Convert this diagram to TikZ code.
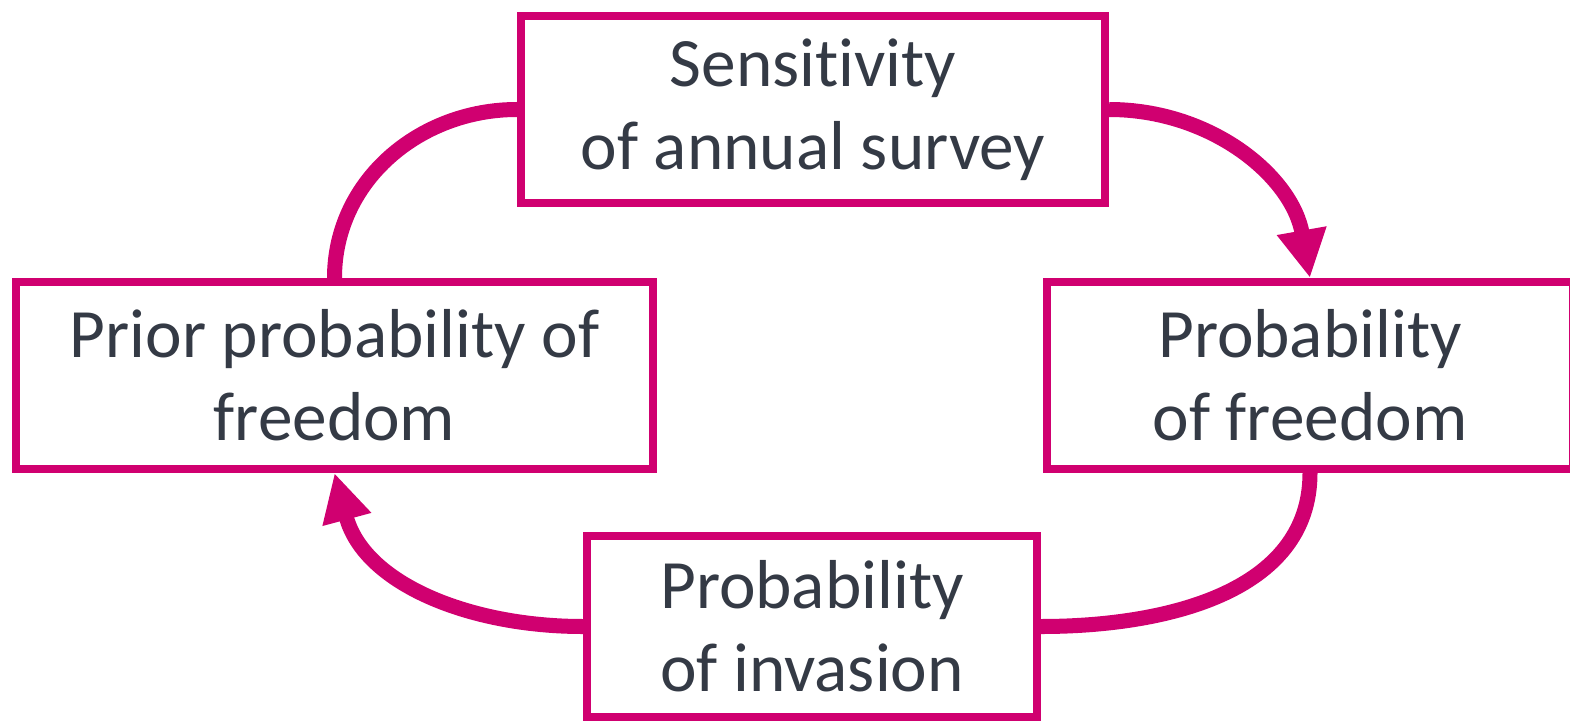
\documentclass[tikz,border=0pt]{standalone}
\usepackage{fontspec}
\setmainfont[Ligatures=NoCommon]{Carlito}
\usetikzlibrary{arrows.meta}
\definecolor{boxpink}{RGB}{208,0,112}
\definecolor{textgrey}{RGB}{52,58,69}
\tikzset{
	factor/.style={draw=boxpink, line width=0.08cm, inner sep=0pt, align=center, text=textgrey, font=\fontsize{19.7}{23.6}\selectfont},
	link/.style={draw=boxpink, line width=0.15cm},
	linkarrow/.style={link, -{Triangle[length=0.48cm,width=0.47cm]}}
}
\begin{document}
\begin{tikzpicture}[x=0.01cm,y=0.01cm]
	\useasboundingbox (0,0) rectangle (1570,-721);
	\node[factor, minimum width=5.84cm, minimum height=1.87cm] (survey) at (813,-109.5) {Sensitivity\\of annual survey};
	\node[factor, minimum width=6.37cm, minimum height=1.87cm] (prior) at (334.5,-375.5) {Prior probability of\\freedom};
	\node[factor, minimum width=5.26cm, minimum height=1.87cm] (freedom) at (1310,-375.5) {Probability\\of freedom};
	\node[factor, minimum width=4.50cm, minimum height=1.81cm] (invasion) at (812,-626.5) {Probability\\of invasion};
	\draw[link] (survey.west) to[out=180,in=90] (prior.north);
	\draw[linkarrow] (survey.east) to[out=0,in=100] (freedom.north);
	\draw[link] (freedom.south) to[out=270,in=0] (invasion.east);
	\draw[linkarrow] (invasion.west) to[out=180,in=-75] (prior.south);
\end{tikzpicture}
\end{document}
